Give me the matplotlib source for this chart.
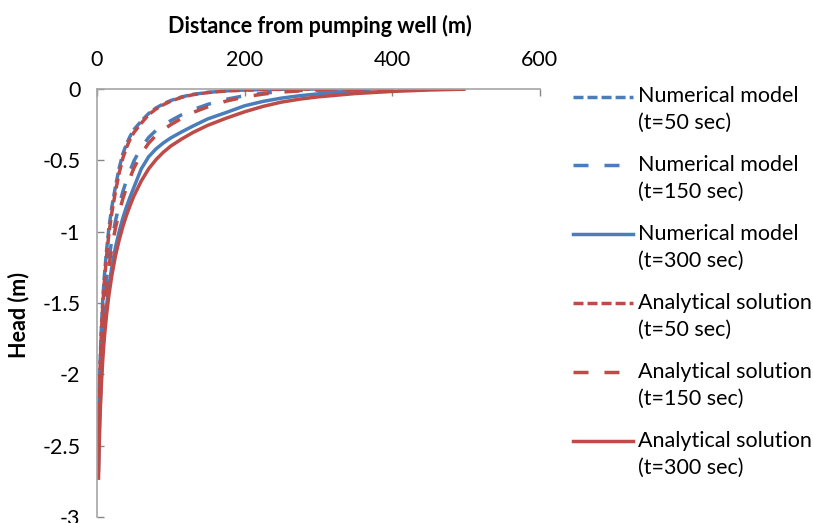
import matplotlib
matplotlib.use("Agg")
import matplotlib.pyplot as plt
from matplotlib.lines import Line2D

plt.rcParams['font.family'] = ['Lato', 'DejaVu Sans']
plt.rcParams['axes.unicode_minus'] = False
plt.rcParams['lines.scale_dashes'] = False

# ---- data ----
dist = [2, 3, 4, 6, 8, 10, 13, 16, 20, 25, 30, 35, 40, 45, 50, 60, 70, 80, 90, 100, 115, 130, 150,
        175, 200, 225, 250, 275, 300, 350, 400, 450, 500]
dist_num = [2, 3, 4, 6, 8, 10, 13, 16, 20, 25, 30, 35, 40, 45, 50, 60, 70, 80, 90, 100, 115, 130, 150,
            175, 200, 225, 250, 275, 300, 330, 370]

num_50 = [-2.42, -2.14, -1.94, -1.66, -1.46, -1.31, -1.13, -0.98, -0.83, -0.685,
          -0.555, -0.455, -0.385, -0.33, -0.285, -0.225, -0.172, -0.133, -0.104, -0.081,
          -0.055, -0.038, -0.024, -0.013, -0.007, -0.004, -0.002, -0.001, 0.0, 0.0, 0.0]
num_150 = [-2.49, -2.24, -2.06, -1.81, -1.63, -1.49, -1.33, -1.20, -1.06, -0.925,
           -0.815, -0.72, -0.64, -0.57, -0.505, -0.41, -0.34, -0.29, -0.253, -0.222,
           -0.18, -0.145, -0.108, -0.072, -0.047, -0.03, -0.018, -0.011, -0.006, -0.003, -0.001]
num_300 = [-2.68, -2.43, -2.25, -2.00, -1.82, -1.68, -1.52, -1.39, -1.25, -1.11,
           -1.00, -0.905, -0.825, -0.755, -0.69, -0.56, -0.475, -0.42, -0.378, -0.343,
           -0.30, -0.26, -0.21, -0.165, -0.118, -0.087, -0.064, -0.047, -0.034, -0.022, -0.012]

ana_50 = [-2.46, -2.18, -1.98, -1.70, -1.50, -1.35, -1.17, -1.02, -0.87, -0.72,
          -0.59, -0.485, -0.41, -0.35, -0.305, -0.24, -0.18, -0.14, -0.11, -0.085,
          -0.058, -0.04, -0.025, -0.014, -0.008, -0.004, -0.002, -0.001, 0.0, 0.0, 0.0, 0.0, 0.0]
ana_150 = [-2.54, -2.29, -2.11, -1.86, -1.68, -1.54, -1.38, -1.25, -1.11, -0.975,
           -0.865, -0.77, -0.69, -0.62, -0.555, -0.455, -0.38, -0.325, -0.285, -0.25,
           -0.205, -0.165, -0.125, -0.085, -0.056, -0.036, -0.022, -0.013, -0.008, -0.003, -0.001, 0.0, 0.0]
ana_300 = [-2.74, -2.49, -2.31, -2.06, -1.88, -1.74, -1.58, -1.45, -1.31, -1.17,
           -1.06, -0.965, -0.885, -0.815, -0.75, -0.645, -0.56, -0.495, -0.443, -0.40,
           -0.35, -0.305, -0.255, -0.205, -0.16, -0.122, -0.092, -0.071, -0.055, -0.032, -0.017, -0.007, -0.001]

labels = ["Numerical model\n(t=50 sec)", "Numerical model\n(t=150 sec)", "Numerical model\n(t=300 sec)",
          "Analytical solution\n(t=50 sec)", "Analytical solution\n(t=150 sec)", "Analytical solution\n(t=300 sec)"]

xticks = [0, 200, 400, 600]
yticks = [0, -0.5, -1, -1.5, -2, -2.5, -3]
ytick_labels = ["0", "-0.5", "-1", "-1.5", "-2", "-2.5", "-3"]

# ---- styles ----
BLUE = "#4A7EBB"
RED = "#BE4B48"
short = (0, (7.2, 2.9))
long_ = (0, (10.8, 11.5))
solid = "-"
lw = 2.5
FS = 15.5

W, H = 813, 523
fig = plt.figure(figsize=(W / 100, H / 100), dpi=100)
ax = fig.add_axes([97 / W, 1 - 517 / H, (539.5 - 97) / W, (517 - 89) / H])

series = [
    (dist_num, num_50, BLUE, short),
    (dist_num, num_150, BLUE, long_),
    (dist_num, num_300, BLUE, solid),
    (dist, ana_50, RED, short),
    (dist, ana_150, RED, long_),
    (dist, ana_300, RED, solid),
]
for x, y, c, ls in series:
    ax.plot(x, y, color=c, linestyle=ls, linewidth=lw, solid_capstyle='butt',
            dash_capstyle='butt', solid_joinstyle='round', clip_on=True)

ax.set_xlim(0, 600)
ax.set_ylim(-3, 0)
ax.xaxis.tick_top()
ax.set_xticks(xticks)
ax.set_xticklabels([str(v) for v in xticks])
ax.set_yticks(yticks)
ax.set_yticklabels(ytick_labels)
ax.tick_params(axis='x', direction='in', length=5, width=1, color="#868686", pad=14,
               labelsize=FS, labelcolor="#000000", top=True, bottom=False)
ax.tick_params(axis='y', direction='in', length=5, width=1, color="#868686", pad=12,
               labelsize=FS, labelcolor="#000000")
for s in ['right', 'bottom']:
    ax.spines[s].set_visible(False)
for s in ['left', 'top']:
    ax.spines[s].set_color("#A6A6A6")
    ax.spines[s].set_linewidth(1.2)

fig.text(320 / W, 1 - 26 / H, "Distance from pumping well (m)", ha='center', va='center',
         fontsize=FS, fontweight='bold')
fig.text(19 / W, 1 - 315 / H, "Head (m)", ha='center', va='center', rotation=90,
         fontsize=FS, fontweight='bold')

# ---- legend drawn manually ----
row0 = 96.5
pitch = 68.9
for i, (x, y, c, ls) in enumerate(series):
    yy = row0 + i * pitch
    fig.add_artist(Line2D([573 / W, 633 / W], [1 - yy / H, 1 - yy / H], color=c, linestyle=ls,
                          linewidth=lw, transform=fig.transFigure))
    l1, l2 = labels[i].split("\n")
    fig.text(638 / W, 1 - yy / H, l1, ha='left', va='center', fontsize=FS)
    fig.text(638 / W, 1 - (yy + 26.7) / H, l2, ha='left', va='center', fontsize=FS)

fig.savefig("out.png", dpi=100)
